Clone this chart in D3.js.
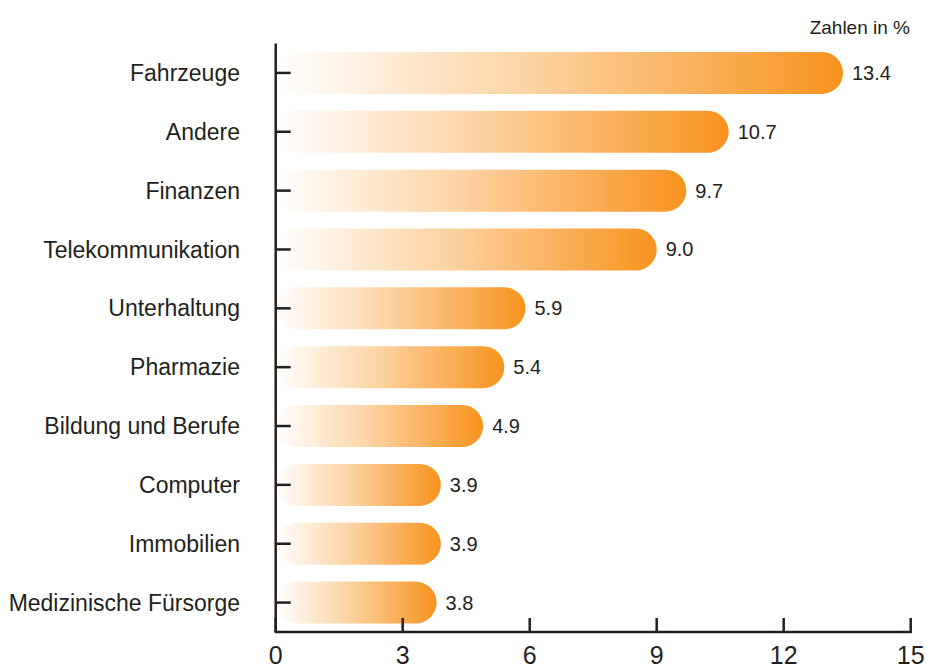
<!DOCTYPE html>
<html>
<head>
<meta charset="utf-8">
<script src="https://cdn.jsdelivr.net/npm/d3@7"></script>
<style>
  body { margin: 0; background: #fff; }
  text { font-family: "Liberation Sans Narrow", "Liberation Sans", sans-serif; fill: #231f20; }
</style>
</head>
<body>
<svg id="canvas"></svg>
<script>
// data
var categories = ["Fahrzeuge", "Andere", "Finanzen", "Telekommunikation", "Unterhaltung",
    "Pharmazie", "Bildung und Berufe", "Computer", "Immobilien", "Medizinische Fürsorge"];
var values = [13.4, 10.7, 9.7, 9.0, 5.9, 5.4, 4.9, 3.9, 3.9, 3.8];
var xTicks = [0, 3, 6, 9, 12, 15];
var unitLabel = "Zahlen in %";

var width = 927, height = 667;
var plotLeft = 275.7, plotRight = 910.7, plotTop = 43.5, plotBottom = 632;

var svg = d3.select("#canvas")
    .attr("width", width)
    .attr("height", height);

var x = d3.scaleLinear()
    .domain([0, 15])
    .range([plotLeft, plotRight]);

var y = d3.scaleBand()
    .domain(categories)
    .range([plotTop, plotBottom]);

var barH = 42;

// gradient white -> orange, per bar
var grad = svg.append("defs").append("linearGradient")
    .attr("id", "barGrad")
    .attr("x1", "0").attr("x2", "1").attr("y1", "0").attr("y2", "0");
grad.append("stop").attr("offset", "0%").attr("stop-color", "#ffffff");
grad.append("stop").attr("offset", "45%").attr("stop-color", "#fcd3a2");
grad.append("stop").attr("offset", "100%").attr("stop-color", "#f7931e");

var data = categories.map(function(c, i) { return {name: c, value: values[i]}; });

// bars
svg.selectAll(".bar")
    .data(data)
    .enter().append("rect")
    .attr("class", "bar")
    .attr("x", x(0))
    .attr("y", function(d) { return y(d.name) + y.bandwidth() / 2 - barH / 2; })
    .attr("width", function(d) { return x(d.value) - x(0); })
    .attr("height", barH)
    .attr("rx", barH / 2)
    .attr("ry", barH / 2)
    .style("fill", "url(#barGrad)");

// value labels
svg.selectAll(".val")
    .data(data)
    .enter().append("text")
    .attr("class", "val")
    .attr("x", function(d) { return x(d.value) + 9; })
    .attr("y", function(d) { return y(d.name) + y.bandwidth() / 2; })
    .attr("dy", "0.35em")
    .style("font-size", "20px")
    .text(function(d) { return d.value.toFixed(1); });

// category labels
svg.selectAll(".cat")
    .data(data)
    .enter().append("text")
    .attr("class", "cat")
    .attr("x", 240)
    .attr("y", function(d) { return y(d.name) + y.bandwidth() / 2; })
    .attr("dy", "0.35em")
    .attr("text-anchor", "end")
    .style("font-size", "23px")
    .text(function(d) { return d.name; });

// y axis line and ticks
var axisColor = "#231f20";
svg.append("line")
    .attr("x1", plotLeft).attr("x2", plotLeft)
    .attr("y1", plotTop).attr("y2", plotBottom)
    .attr("stroke", axisColor).attr("stroke-width", 2.5);

svg.selectAll(".ytick")
    .data(categories)
    .enter().append("line")
    .attr("class", "ytick")
    .attr("x1", plotLeft).attr("x2", plotLeft + 15)
    .attr("y1", function(d) { return y(d) + y.bandwidth() / 2; })
    .attr("y2", function(d) { return y(d) + y.bandwidth() / 2; })
    .attr("stroke", axisColor).attr("stroke-width", 2.5);

// x axis
svg.append("line")
    .attr("x1", plotLeft - 1.2).attr("x2", plotRight + 1.2)
    .attr("y1", plotBottom).attr("y2", plotBottom)
    .attr("stroke", axisColor).attr("stroke-width", 2.5);

svg.selectAll(".xtick")
    .data(xTicks)
    .enter().append("line")
    .attr("class", "xtick")
    .attr("x1", function(d) { return x(d); })
    .attr("x2", function(d) { return x(d); })
    .attr("y1", plotBottom).attr("y2", plotBottom - 14)
    .attr("stroke", axisColor).attr("stroke-width", 2.5);

svg.selectAll(".xlab")
    .data(xTicks)
    .enter().append("text")
    .attr("class", "xlab")
    .attr("x", function(d) { return x(d); })
    .attr("y", 655)
    .attr("dy", "0.35em")
    .attr("text-anchor", "middle")
    .style("font-size", "25px")
    .text(function(d) { return d; });

// unit label
svg.append("text")
    .attr("x", 910)
    .attr("y", 27)
    .attr("dy", "0.35em")
    .attr("text-anchor", "end")
    .style("font-size", "19px")
    .text(unitLabel);
</script>
</body>
</html>
